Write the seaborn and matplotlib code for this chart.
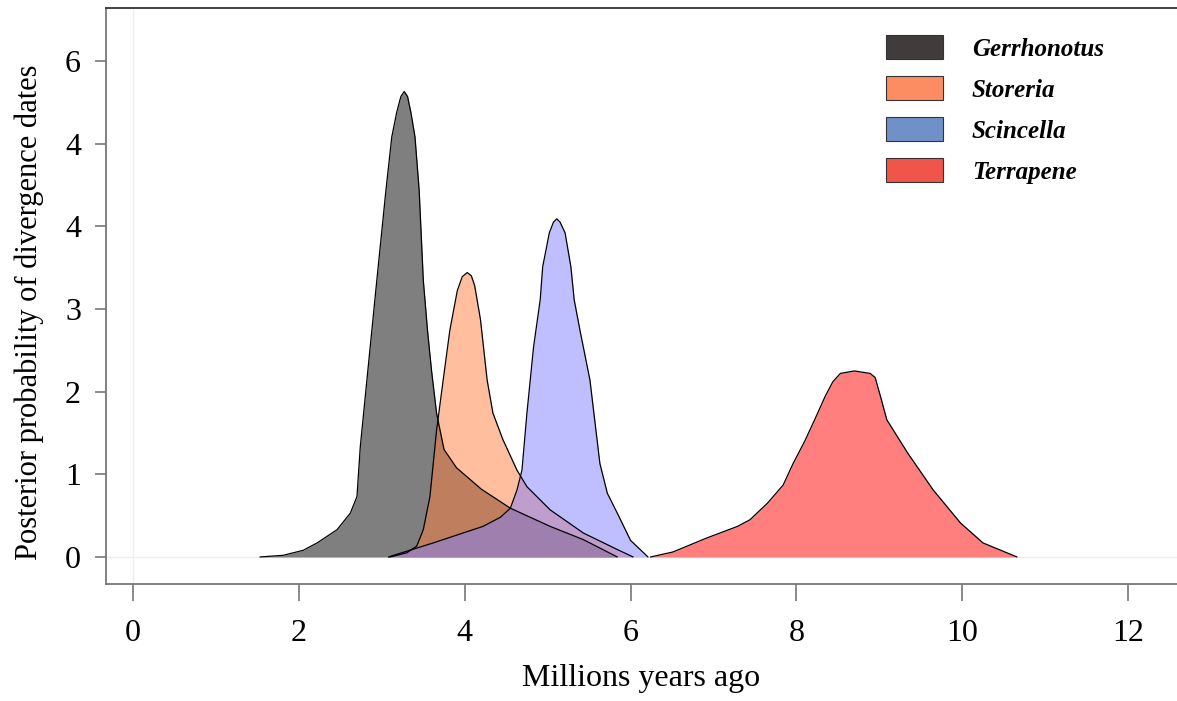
import numpy as np
import pandas as pd
import matplotlib
matplotlib.use("Agg")
import matplotlib.pyplot as plt
from matplotlib.patches import Patch
import seaborn as sns

# 종별 사후 분포 곡선
species = ["Gerrhonotus", "Storeria", "Scincella", "Terrapene"]

gerr_x = [1.53, 1.81, 2.05, 2.22, 2.46, 2.62, 2.70, 2.74, 2.82, 2.94, 3.05, 3.12, 3.18,
          3.23, 3.27, 3.31, 3.35, 3.40, 3.45, 3.50, 3.55, 3.60, 3.66, 3.75, 3.90, 4.20,
          4.55, 5.03, 5.43, 5.84]
gerr_y = [0.0, 0.02, 0.08, 0.17, 0.33, 0.53, 0.73, 1.33, 2.14, 3.35, 4.44, 5.08, 5.38,
          5.57, 5.63, 5.57, 5.38, 5.08, 4.44, 3.35, 2.75, 2.25, 1.74, 1.30, 1.08, 0.82,
          0.59, 0.37, 0.21, 0.0]

stor_x = [3.10, 3.30, 3.42, 3.50, 3.58, 3.66, 3.74, 3.82, 3.91, 3.97, 4.03, 4.08, 4.12,
          4.19, 4.27, 4.34, 4.46, 4.63, 4.75, 5.03, 5.43, 5.84, 6.03]
stor_y = [0.0, 0.05, 0.13, 0.33, 0.73, 1.53, 2.14, 2.74, 3.22, 3.39, 3.44, 3.40, 3.28,
          2.87, 2.14, 1.74, 1.42, 1.05, 0.85, 0.57, 0.29, 0.09, 0.0]

scin_x = [3.08, 3.62, 4.22, 4.43, 4.55, 4.63, 4.69, 4.75, 4.83, 4.91, 4.94, 5.02, 5.07,
          5.11, 5.15, 5.21, 5.28, 5.32, 5.39, 5.51, 5.63, 5.72, 5.84, 6.00, 6.21]
scin_y = [0.0, 0.17, 0.37, 0.48, 0.59, 0.81, 1.05, 1.74, 2.54, 3.11, 3.51, 3.92, 4.05,
          4.09, 4.05, 3.92, 3.51, 3.11, 2.74, 2.14, 1.13, 0.77, 0.53, 0.20, 0.0]

terr_x = [6.24, 6.51, 6.92, 7.29, 7.44, 7.65, 7.84, 7.96, 8.10, 8.22, 8.35, 8.44, 8.53,
          8.70, 8.89, 8.95, 9.02, 9.09, 9.34, 9.65, 9.98, 10.25, 10.66]
terr_y = [0.0, 0.06, 0.23, 0.37, 0.45, 0.65, 0.87, 1.13, 1.40, 1.66, 1.95, 2.12, 2.22,
          2.25, 2.22, 2.17, 1.92, 1.66, 1.26, 0.81, 0.41, 0.17, 0.0]

x_ticks = [0, 2, 4, 6, 8, 10, 12]
y_ticks = [0, 1, 2, 3, 4, 5, 6]
y_tick_labels = ["0", "1", "2", "3", "4", "4", "6"]

fill_colors = [("#000000", 0.5), ("#FF7F3F", 0.5), ("#8080FF", 0.5), ("#FF0000", 0.5)]
legend_colors = ["#403C3C", "#FC8D62", "#7090C8", "#EF5548"]

curves = [(gerr_x, gerr_y), (stor_x, stor_y), (scin_x, scin_y), (terr_x, terr_y)]

sns.set_style("white")
plt.rcParams['font.family'] = ['Liberation Serif', 'DejaVu Serif']
plt.rcParams['text.color'] = 'black'
plt.rcParams['xtick.color'] = 'black'
plt.rcParams['ytick.color'] = 'black'
plt.rcParams['axes.labelcolor'] = 'black'

fig = plt.figure(figsize=(11.77, 7.01), dpi=100)
ax = fig.add_axes([0.0901, 0.1669, 0.9099, 0.8217])

ax.axhline(0, color="#eeeeee", lw=1, zorder=0)
ax.axvline(0, color="#eeeeee", lw=1, zorder=0)

for name, (cx, cy), (fc, a) in zip(species, curves, fill_colors):
    df = pd.DataFrame({"x": cx, "y": cy})
    ax.fill_between(df["x"], df["y"], 0, color=fc, alpha=a, lw=0)
    sns.lineplot(data=df, x="x", y="y", ax=ax, color="black", lw=0.9, sort=False,
                 solid_joinstyle="round")

ax.set_xlim(-0.326, 12.59)
ax.set_ylim(-0.327, 6.64)
ax.set_xticks(x_ticks)
ax.set_xticklabels([str(t) for t in x_ticks])
ax.set_yticks(y_ticks)
ax.set_yticklabels(y_tick_labels)
ax.tick_params(axis="x", direction="out", length=12, width=1.2, color="#777777",
               labelsize=23, pad=13, bottom=True)
ax.tick_params(axis="y", direction="out", length=8, width=1.2, color="#777777",
               labelsize=23, pad=10, left=True)

ax.set_xlabel("Millions years ago", fontsize=23, labelpad=12)
ax.set_ylabel("Posterior probability of divergence dates", fontsize=22)
ax.yaxis.set_label_coords(-0.058, 0.472)

ax.spines["right"].set_visible(False)
ax.spines["top"].set_color("#333333")
ax.spines["left"].set_color("#777777")
ax.spines["bottom"].set_color("#777777")
for s in ["top", "left", "bottom"]:
    ax.spines[s].set_linewidth(1.3)

handles = [Patch(facecolor=c, edgecolor="#333333", lw=0.8) for c in legend_colors]
leg = ax.legend(handles, species, loc="upper left", bbox_to_anchor=(0.728, 0.953),
                frameon=False, borderpad=0, borderaxespad=0,
                handlelength=2.3, handleheight=1.1, handletextpad=1.15,
                labelspacing=0.62, prop={"family": "Liberation Serif", "style": "italic",
                                         "weight": "bold", "size": 18})

fig.savefig("out.png", dpi=100)
